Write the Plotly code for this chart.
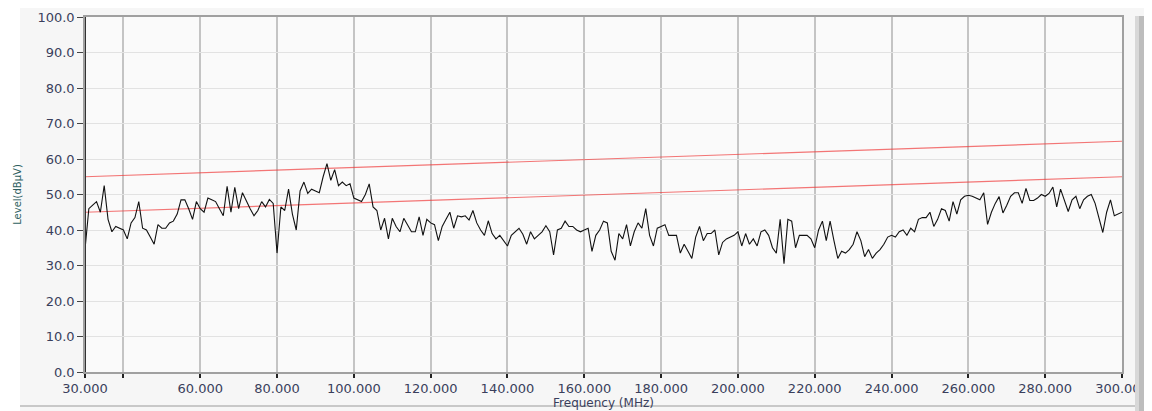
import numpy as np
import plotly.graph_objects as go

# ---- data ----
freq_start, freq_stop, freq_step = 30, 300, 1
level_dbuv = [
    34.5, 46, 47, 48, 45, 52.5, 43, 39.5, 41, 40.5,
    40, 37.5, 42, 43.5, 48, 40.5, 40, 38, 36, 41.5,
    40.5, 40.5, 42, 42.5, 44.5, 48.5, 48.5, 46, 43, 48,
    46, 45, 49, 48.5, 48, 46, 44, 52.3, 45, 52,
    46, 50.5, 48, 46, 44, 45.5, 48, 46.5, 48.6, 47.5,
    33.5, 46.5, 45.5, 51.5, 44.5, 40, 51, 53.5, 50.3, 51.5,
    51, 50.5, 55, 58.7, 54, 57, 52.5, 53.5, 52.5, 53,
    49, 48.5, 48, 50, 53, 46.5, 45.5, 40, 43.3, 37.5,
    43.3, 41, 39.5, 43.3, 41.5, 39.5, 39.5, 43.7, 38.5, 43,
    42, 41.5, 37, 41, 43, 45, 40.5, 44, 43.7, 44,
    42.8, 45.5, 42, 40, 38.5, 42.6, 39, 37.5, 38.5, 37,
    35.5, 38.5, 39.5, 40.5, 38.8, 36, 39.5, 37.5, 38.5, 39.5,
    41.2, 39.5, 33, 40, 40.5, 42.5, 41, 41, 40, 39.5,
    40, 40.5, 34, 38.5, 40, 42.5, 42, 34, 31.5, 39,
    37.5, 41.5, 35.5, 39.5, 42, 40.5, 46, 38.5, 35.5, 40.5,
    41, 41.5, 38.5, 38.5, 38.5, 33.5, 36, 34, 32, 38,
    41, 37, 39, 39, 40, 33, 36.5, 37.5, 38, 38.5,
    39.5, 35.5, 39, 36, 37.5, 35.5, 39.5, 40, 38.5, 35,
    33.5, 43, 30.5, 43, 42.5, 35, 38.5, 38.5, 38.5, 37.5,
    35, 40, 42.5, 37, 42.5, 37, 32, 34, 33.5, 34.5,
    36, 39.5, 37, 32.5, 34.5, 32, 33.5, 34.5, 36, 38,
    38.5, 38, 39.5, 40, 38.5, 40.5, 39.5, 43, 43.5, 43.5,
    45, 41, 43, 46, 45.5, 42.5, 48, 44.5, 48.5, 49.5,
    49.8, 49.5, 49, 48.5, 50.5, 41.6, 45, 47.5, 49.4, 44.8,
    47, 49.5, 50.5, 50.5, 47.5, 51.7, 48.3, 48.3, 49, 50,
    49.5, 50.3, 52.1, 46.5, 51.5, 48.5, 45.2, 48.5, 49.5, 46,
    48.5, 49.5, 50, 47.5, 43.5, 39.3, 45, 48.5, 44, 44.5,
    45,
]
limit_freq = [30, 300]
limit_upper = [55, 65]
limit_lower = [45, 55]
x_tick_vals = [30, 40, 60, 80, 100, 120, 140, 160, 180, 200, 220, 240, 260, 280, 300]
x_tick_text = ["30.000", "", "60.000", "80.000", "100.000", "120.000", "140.000",
               "160.000", "180.000", "200.000", "220.000", "240.000", "260.000",
               "280.000", "300.000"]
y_tick_vals = [0, 10, 20, 30, 40, 50, 60, 70, 80, 90, 100]

freq = np.arange(freq_start, freq_stop + freq_step, freq_step)
assert len(freq) == len(level_dbuv)

fig = go.Figure()
fig.add_trace(go.Scatter(x=limit_freq, y=limit_upper, mode="lines",
                         line=dict(color="rgba(240,60,60,0.7)", width=1.2),
                         hoverinfo="skip", showlegend=False))
fig.add_trace(go.Scatter(x=limit_freq, y=limit_lower, mode="lines",
                         line=dict(color="rgba(240,60,60,0.7)", width=1.2),
                         hoverinfo="skip", showlegend=False))
fig.add_trace(go.Scatter(x=freq, y=level_dbuv, mode="lines",
                         line=dict(color="#111111", width=1.1),
                         showlegend=False))

tick_font = dict(family="DejaVu Sans", size=13, color="#3a3f5c")

# page body adds an 8px offset; figure occupies 1144x403 starting at (8, 8)
PW = 1037.0
PH = 355.0

fig.update_layout(
    width=1144, height=403,
    margin=dict(l=77, r=30, t=9, b=39, autoexpand=False),
    paper_bgcolor="#f6f6f6",
    plot_bgcolor="#fafafa",
    showlegend=False,
    xaxis=dict(
        range=[30, 300], tickmode="array", tickvals=x_tick_vals, ticktext=x_tick_text,
        tickfont=tick_font, ticks="outside", ticklen=4, tickcolor="#222222", tickwidth=2,
        showgrid=True, gridcolor="#c4c4c4", gridwidth=1.5,
        showline=True, linecolor="#a0a0a0", linewidth=1.5, mirror=True,
        zeroline=False, automargin=False,
        title=dict(text="Frequency (MHz)", font=dict(family="DejaVu Sans", size=12, color="#3a3f5c"),
                   standoff=2),
    ),
    yaxis=dict(
        range=[0, 100], tickmode="array", tickvals=y_tick_vals, tickformat=".1f",
        tickfont=tick_font, ticks="outside", ticklen=6, tickcolor="#444444", tickwidth=1,
        showgrid=True, gridcolor="#e2e2e2", gridwidth=1.2,
        showline=True, linecolor="#a0a0a0", linewidth=1.5, mirror=True,
        zeroline=False, automargin=False,
        title=dict(text="Level(dBµV)", font=dict(family="DejaVu Sans", size=10, color="#2f5f62"),
                   standoff=14),
    ),
    shapes=[
        # dark left axis line
        dict(type="line", xref="x", yref="paper", x0=30, x1=30, y0=0, y1=1,
             line=dict(color="#333333", width=2)),
        # white strip left
        dict(type="rect", xref="paper", yref="paper", x0=-77/PW, x1=-65/PW,
             y0=-39/PH, y1=1 + 9/PH, fillcolor="white", line=dict(width=0), layer="below"),
        # right gray strip (gradient approximation)
        dict(type="rect", xref="paper", yref="paper", x0=1 + 13/PW, x1=1 + 17/PW,
             y0=-39/PH, y1=1 + 1/PH, fillcolor="#d8d8d8", line=dict(width=0)),
        dict(type="rect", xref="paper", yref="paper", x0=1 + 17/PW, x1=1 + 23/PW,
             y0=-39/PH, y1=1 + 1/PH, fillcolor="#bdbdbd", line=dict(width=0)),
        dict(type="rect", xref="paper", yref="paper", x0=1 + 23/PW, x1=1 + 30/PW,
             y0=-39/PH, y1=1 + 1/PH, fillcolor="#a8a8a8", line=dict(width=0)),
        # bottom line
        dict(type="line", xref="paper", yref="paper", x0=-65/PW, x1=1 + 13/PW,
             y0=-34/PH, y1=-34/PH, line=dict(color="#c8c8c8", width=2)),
    ],
)

fig.write_html("out.html")
